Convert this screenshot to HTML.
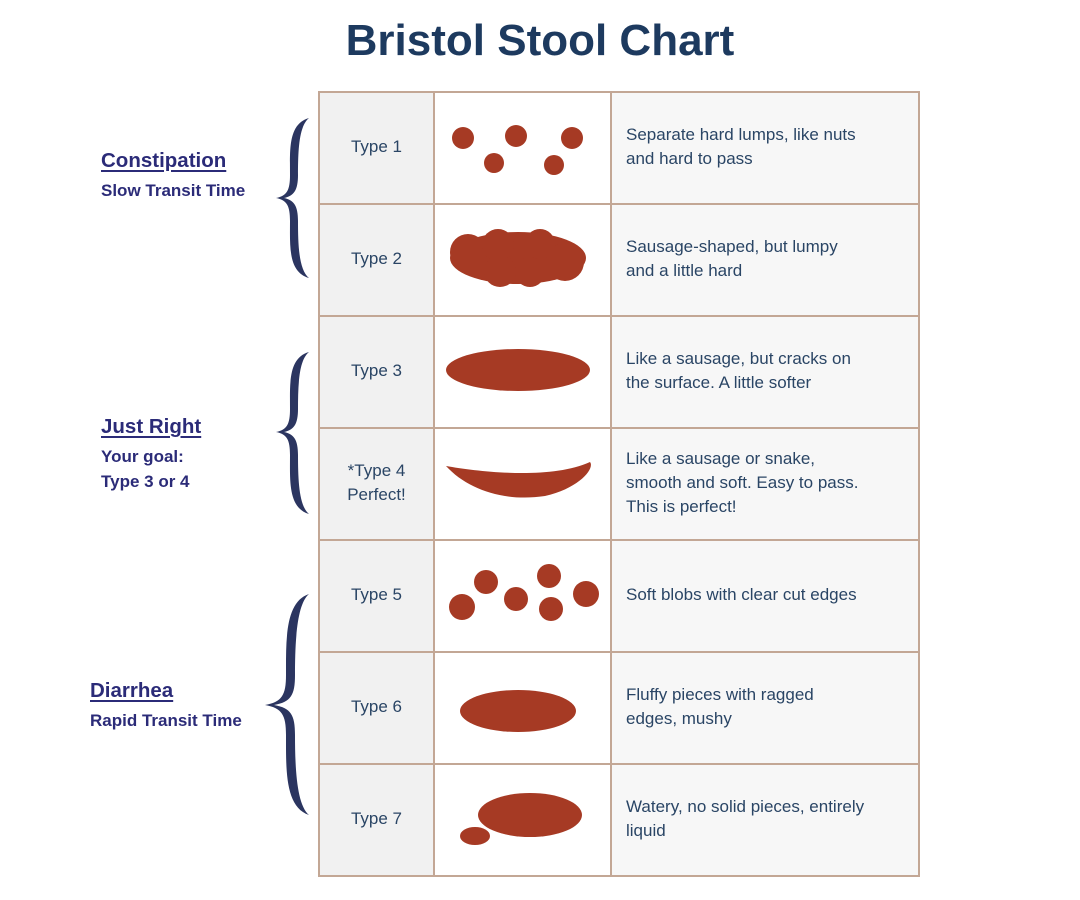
<!DOCTYPE html>
<html><head><meta charset="utf-8"><style>
body{margin:0;width:1080px;height:900px;background:#fff;position:relative;font-family:"Liberation Sans",sans-serif;overflow:hidden}
.t{position:absolute;left:0;width:1080px;top:16px;text-align:center;font-size:44px;font-weight:bold;color:#1d3a5f}
.cell{position:absolute;box-sizing:border-box;border:2px solid #c3a795;display:flex;align-items:center;color:#2a4565;font-size:17px;line-height:24px;padding-bottom:3px}
.c1{left:318px;width:117px;background:#f1f1f1;justify-content:center;text-align:center}
.c2{left:433px;width:179px;background:#fff}
.c3{left:610px;width:310px;background:#f7f7f7;padding-left:14px}
.lab{position:absolute;color:#2b2b78;font-weight:900}
.lab .h{font-size:20.5px;text-decoration:underline;text-underline-offset:3px;text-decoration-thickness:2px}
.lab .s{font-size:17px;margin-top:5px;line-height:25px}
</style></head><body>
<div class="t">Bristol Stool Chart</div>

<div class="lab" style="left:101px;top:149px"><div class="h">Constipation</div><div class="s">Slow Transit Time</div></div>
<div class="lab" style="left:101px;top:415px"><div class="h">Just Right</div><div class="s">Your goal:<br>Type 3 or 4</div></div>
<div class="lab" style="left:90px;top:679px"><div class="h">Diarrhea</div><div class="s">Rapid Transit Time</div></div>

<svg width="1080" height="900" style="position:absolute;left:0;top:0" fill="#2b3560">
<path d="M309 118 C288 124 290 150 290 175 C290 190 287 196 276 198 C287 200 290 206 290 221 C290 246 288 272 309 278 C299 270 298 246 298 221 C298 206 294 200 284 198 C294 196 298 190 298 175 C298 150 299 126 309 118Z"/>
<path d="M309 352 C288 358 290 384 290 409 C290 424 287 430 276 432 C287 434 290 440 290 455 C290 480 288 508 309 514 C299 506 298 480 298 455 C298 440 294 434 284 432 C294 430 298 424 298 409 C298 384 299 360 309 352Z"/>
<path d="M309 594 C285 602 286 640 286 675 C286 695 282 702 265 705 C282 708 286 715 286 735 C286 770 285 807 309 815 C297 805 295 770 295 735 C295 715 291 708 274 705 C291 702 295 695 295 675 C295 640 297 604 309 594Z"/>
</svg>

<div class="cell c1" style="top:91px;height:114px">Type 1</div>
<div class="cell c2" style="top:91px;height:114px"></div>
<div class="cell c3" style="top:91px;height:114px">Separate hard lumps, like nuts<br>and hard to pass</div>
<div class="cell c1" style="top:203px;height:114px">Type 2</div>
<div class="cell c2" style="top:203px;height:114px"></div>
<div class="cell c3" style="top:203px;height:114px">Sausage-shaped, but lumpy<br>and a little hard</div>
<div class="cell c1" style="top:315px;height:114px">Type 3</div>
<div class="cell c2" style="top:315px;height:114px"></div>
<div class="cell c3" style="top:315px;height:114px">Like a sausage, but cracks on<br>the surface. A little softer</div>
<div class="cell c1" style="top:427px;height:114px">*Type 4<br>Perfect!</div>
<div class="cell c2" style="top:427px;height:114px"></div>
<div class="cell c3" style="top:427px;height:114px">Like a sausage or snake,<br>smooth and soft. Easy to pass.<br>This is perfect!</div>
<div class="cell c1" style="top:539px;height:114px">Type 5</div>
<div class="cell c2" style="top:539px;height:114px"></div>
<div class="cell c3" style="top:539px;height:114px">Soft blobs with clear cut edges</div>
<div class="cell c1" style="top:651px;height:114px">Type 6</div>
<div class="cell c2" style="top:651px;height:114px"></div>
<div class="cell c3" style="top:651px;height:114px">Fluffy pieces with ragged<br>edges, mushy</div>
<div class="cell c1" style="top:763px;height:114px">Type 7</div>
<div class="cell c2" style="top:763px;height:114px"></div>
<div class="cell c3" style="top:763px;height:114px">Watery, no solid pieces, entirely<br>liquid</div>

<svg width="1080" height="900" style="position:absolute;left:0;top:0" fill="#a63a24">
<circle cx="463" cy="138" r="11"/><circle cx="516" cy="136" r="11"/><circle cx="572" cy="138" r="11"/><circle cx="494" cy="163" r="10"/><circle cx="554" cy="165" r="10"/>
<ellipse cx="518" cy="258" rx="68" ry="26"/><circle cx="468" cy="252" r="18"/><circle cx="500" cy="271" r="16"/><circle cx="530" cy="272" r="15"/><circle cx="565" cy="262" r="19"/><circle cx="498" cy="245" r="16"/><circle cx="540" cy="244" r="15"/>
<ellipse cx="518" cy="370" rx="72" ry="21"/>
<path d="M446 466 C480 472 550 480 590 462 C595 468 580 488 545 496 C505 502 468 490 446 466Z"/>
<circle cx="462" cy="607" r="13"/><circle cx="486" cy="582" r="12"/><circle cx="516" cy="599" r="12"/><circle cx="549" cy="576" r="12"/><circle cx="551" cy="609" r="12"/><circle cx="586" cy="594" r="13"/>
<ellipse cx="518" cy="711" rx="58" ry="21"/>
<ellipse cx="530" cy="815" rx="52" ry="22"/><ellipse cx="475" cy="836" rx="15" ry="9"/>
</svg>
</body></html>
